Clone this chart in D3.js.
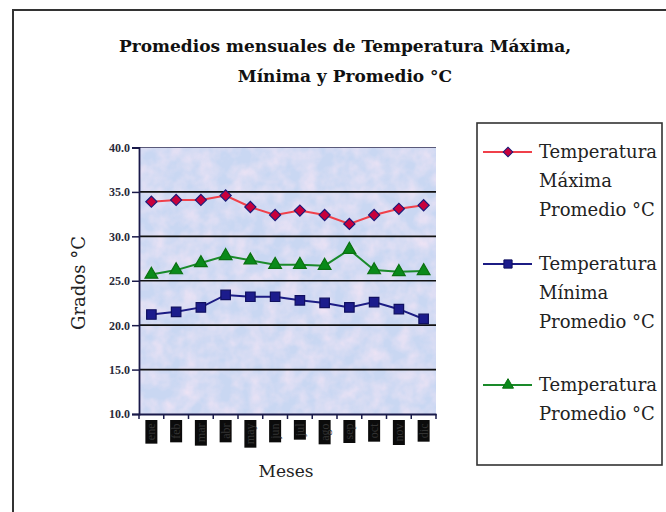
<!DOCTYPE html>
<html>
<head>
<meta charset="utf-8">
<script src="https://cdn.jsdelivr.net/npm/d3@7"></script>
<style>
  html, body { margin: 0; padding: 0; background: #fff; }
  svg { display: block; }
</style>
</head>
<body>
<svg id="chart" width="666" height="512"></svg>
<script>
// Monthly averages (°C)
const months = ["ene", "feb", "mar", "abr", "may", "jun", "jul", "ago", "sep", "oct", "nov", "dic"];
const tempMax = [33.9, 34.1, 34.1, 34.6, 33.3, 32.4, 32.9, 32.4, 31.4, 32.4, 33.1, 33.5];
const tempMin = [21.2, 21.5, 22.0, 23.4, 23.2, 23.2, 22.8, 22.5, 22.0, 22.6, 21.8, 20.7];
const tempAvg = [25.7, 26.2, 27.0, 27.8, 27.3, 26.8, 26.8, 26.7, 28.5, 26.2, 26.0, 26.1];
const yTicks = [10, 15, 20, 25, 30, 35, 40];

const seriesNames = [
  ["Temperatura", "Máxima", "Promedio °C"],
  ["Temperatura", "Mínima", "Promedio °C"],
  ["Temperatura", "Promedio °C"]
];

// Diamond = square turned 45°
const series = [
  { values: tempMax, line: "#f0404a", fill: "#c8003c", stroke: "#1c1c7a", symbol: d3.symbolSquare, rot: 45, size: 62, label: seriesNames[0] },
  { values: tempMin, line: "#1c1c84", fill: "#1c1c8c", stroke: "#101060", symbol: d3.symbolSquare, rot: 0, size: 90, label: seriesNames[1] },
  { values: tempAvg, line: "#1a8a2a", fill: "#0a8a1a", stroke: "#0a7010", symbol: d3.symbolTriangle, rot: 0, size: 70, label: seriesNames[2] }
];

const svg = d3.select("#chart");
const serif = "'DejaVu Serif', 'Liberation Serif', serif";

// Patterned plot background
const defs = svg.append("defs");
const f = defs.append("filter").attr("id", "mottle").attr("x", 0).attr("y", 0).attr("width", 1).attr("height", 1);
f.append("feTurbulence").attr("type", "fractalNoise").attr("baseFrequency", 0.06).attr("numOctaves", 3).attr("seed", 4).attr("result", "n");
f.append("feColorMatrix").attr("in", "n").attr("type", "matrix")
  .attr("values", "0 0 0 0 0.94  0 0 0 0 0.80  0 0 0 0 0.92  1.6 0 0 0 -0.5");
f.append("feComposite").attr("in2", "SourceGraphic").attr("operator", "in");

// Outer frame
svg.append("path")
  .attr("d", "M13,512 L13,10 L666,10")
  .attr("fill", "none").attr("stroke", "#333").attr("stroke-width", 2);

const plot = { left: 139, right: 436, top: 147.5, bottom: 414 };

const x = d3.scaleBand().domain(months).range([plot.left, plot.right]);
const y = d3.scaleLinear().domain([10, 40]).range([plot.bottom, plot.top]);
const cx = m => x(m) + x.bandwidth() / 2;

// Plot background
svg.append("rect")
  .attr("x", plot.left).attr("y", plot.top)
  .attr("width", plot.right - plot.left).attr("height", plot.bottom - plot.top)
  .attr("fill", "#c9d7f2");
svg.append("rect")
  .attr("x", plot.left).attr("y", plot.top)
  .attr("width", plot.right - plot.left).attr("height", plot.bottom - plot.top)
  .attr("fill", "#fff").attr("filter", "url(#mottle)").attr("opacity", 0.8);

// Gridlines
svg.append("g")
  .selectAll("line")
  .data(yTicks.filter(t => t > 10 && t < 40))
  .join("line")
  .attr("x1", plot.left).attr("x2", plot.right)
  .attr("y1", d => y(d)).attr("y2", d => y(d))
  .attr("stroke", "#111").attr("stroke-width", 1.6);

// Top border of plot area
svg.append("line")
  .attr("x1", plot.left).attr("x2", plot.right)
  .attr("y1", plot.top).attr("y2", plot.top)
  .attr("stroke", "#5a5a7a").attr("stroke-width", 1);

// Y axis
const yAxis = svg.append("g")
  .attr("transform", `translate(${plot.left},0)`)
  .call(d3.axisLeft(y).tickValues(yTicks).tickFormat(d3.format(".1f")).tickSize(7).tickPadding(2));
yAxis.select(".domain").attr("stroke", "#1a1a4a").attr("stroke-width", 1.8);
yAxis.selectAll(".tick line").attr("stroke", "#1a1a4a").attr("stroke-width", 1.5);
yAxis.selectAll(".tick text")
  .attr("font-family", "'Liberation Serif', serif").attr("font-weight", "bold")
  .attr("font-size", 12).attr("fill", "#2a2a3a");

// X axis
const xAxis = svg.append("g")
  .attr("transform", `translate(0,${plot.bottom})`)
  .call(d3.axisBottom(x).tickSize(0).tickFormat(""));
xAxis.select(".domain").attr("stroke", "#1a1a4a").attr("stroke-width", 1.8);
xAxis.selectAll(".tick").remove();
const edges = months.map(m => x(m)).concat([plot.right]);
xAxis.selectAll("line.edge")
  .data(edges)
  .join("line").attr("class", "edge")
  .attr("x1", d => d).attr("x2", d => d)
  .attr("y1", 0).attr("y2", 5)
  .attr("stroke", "#1a1a4a").attr("stroke-width", 1.5);

// Month labels: rotated text on dark boxes
const labelTop = 420;
const monthG = svg.append("g");
months.forEach(m => {
  const c = cx(m);
  const g = monthG.append("g");
  const box = g.append("rect");
  const t = g.append("text")
    .text(m)
    .attr("font-family", "'Liberation Serif', serif")
    .attr("font-size", 12)
    .attr("fill", "#333")
    .attr("text-anchor", "end")
    .attr("transform", `translate(${c + 4},${labelTop + 3.5}) rotate(-90)`);
  const len = t.node().getComputedTextLength();
  box.attr("x", c - 6).attr("y", labelTop)
    .attr("width", 12).attr("height", len + 7)
    .attr("fill", "#0b0b0b");
});

// Lines and markers
const line = d3.line().x((d, i) => cx(months[i])).y(d => y(d));
series.forEach(s => {
  svg.append("path")
    .datum(s.values)
    .attr("d", line)
    .attr("fill", "none")
    .attr("stroke", s.line)
    .attr("stroke-width", 2);
  svg.append("g")
    .selectAll("path")
    .data(s.values)
    .join("path")
    .attr("transform", (d, i) => `translate(${cx(months[i])},${y(d)}) rotate(${s.rot})`)
    .attr("d", d3.symbol().type(s.symbol).size(s.size))
    .attr("fill", s.fill)
    .attr("stroke", s.stroke)
    .attr("stroke-width", 1.2);
});

// Title
const title = svg.append("text")
  .attr("x", 345).attr("text-anchor", "middle")
  .attr("font-family", serif).attr("font-weight", "bold")
  .attr("font-size", 17).attr("fill", "#111");
title.append("tspan").attr("x", 345).attr("y", 52).text("Promedios mensuales de Temperatura Máxima,");
title.append("tspan").attr("x", 345).attr("y", 82).text("Mínima y Promedio °C");

// Axis titles
svg.append("text")
  .attr("transform", "translate(85,283) rotate(-90)")
  .attr("text-anchor", "middle")
  .attr("font-family", serif).attr("font-size", 18).attr("fill", "#222")
  .text("Grados °C");

svg.append("text")
  .attr("x", 286).attr("y", 477).attr("text-anchor", "middle")
  .attr("font-family", serif).attr("font-size", 17).attr("fill", "#222")
  .text("Meses");

// Legend
svg.append("rect")
  .attr("x", 477).attr("y", 123).attr("width", 185).attr("height", 342)
  .attr("fill", "#fff").attr("stroke", "#333").attr("stroke-width", 1.6);

const legendStarts = [158, 270, 391];
series.forEach((s, k) => {
  const y0 = legendStarts[k];
  const cy = y0 - 6;
  svg.append("line")
    .attr("x1", 483).attr("x2", 532).attr("y1", cy).attr("y2", cy)
    .attr("stroke", s.line).attr("stroke-width", 2);
  svg.append("path")
    .attr("transform", `translate(508,${cy}) rotate(${s.rot})`)
    .attr("d", d3.symbol().type(s.symbol).size(s.size * 0.75))
    .attr("fill", s.fill).attr("stroke", s.stroke).attr("stroke-width", 1);
  const t = svg.append("text")
    .attr("font-family", serif).attr("font-size", 18).attr("fill", "#222");
  s.label.forEach((ln, j) => {
    t.append("tspan").attr("x", 539).attr("y", y0 + j * 29).text(ln);
  });
});
</script>
</body>
</html>
